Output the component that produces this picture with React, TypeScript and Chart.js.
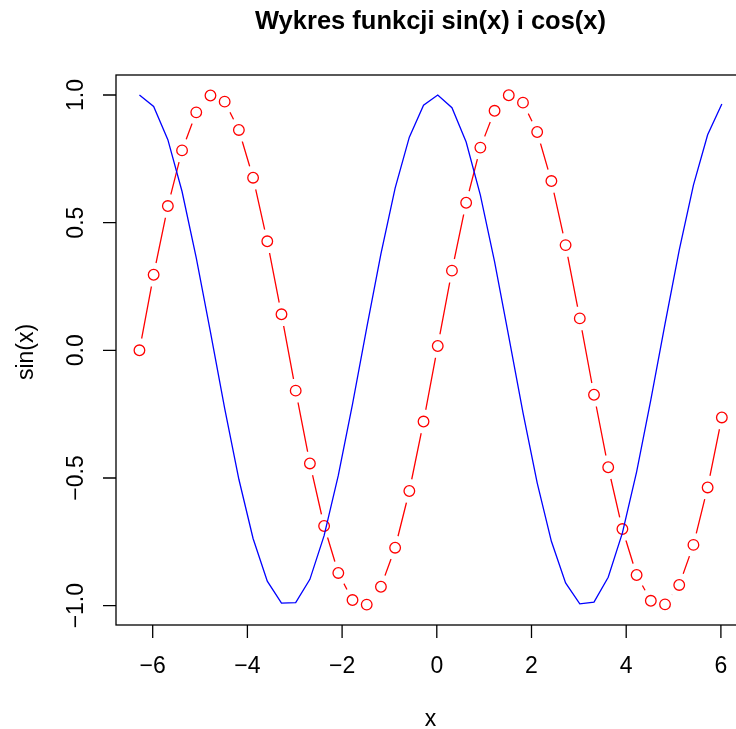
import React, { useEffect, useRef } from "react";
import { Chart, registerables } from "chart.js";

Chart.register(...registerables);

const X_VALUES = [
  -6.28, -5.98, -5.68, -5.38, -5.08, -4.78, -4.48, -4.18, -3.88, -3.58, -3.28,
  -2.98, -2.68, -2.38, -2.08, -1.78, -1.48, -1.18, -0.88, -0.58, -0.28, 0.02,
  0.32, 0.62, 0.92, 1.22, 1.52, 1.82, 2.12, 2.42, 2.72, 3.02, 3.32, 3.62, 3.92,
  4.22, 4.52, 4.82, 5.12, 5.42, 5.72, 6.02,
];
const SIN_VALUES = [
  0.0, 0.296, 0.565, 0.783, 0.932, 0.998, 0.974, 0.863, 0.676, 0.427, 0.141,
  -0.158, -0.443, -0.688, -0.872, -0.978, -0.996, -0.926, -0.773, -0.551,
  -0.279, 0.017, 0.312, 0.578, 0.794, 0.938, 0.999, 0.97, 0.855, 0.663, 0.412,
  0.125, -0.174, -0.458, -0.7, -0.88, -0.981, -0.995, -0.919, -0.762, -0.537,
  -0.263,
];
const COS_VALUES = [
  1.0, 0.955, 0.825, 0.622, 0.362, 0.071, -0.227, -0.505, -0.737, -0.904,
  -0.99, -0.988, -0.897, -0.726, -0.49, -0.211, 0.088, 0.378, 0.635, 0.835,
  0.96, 1.0, 0.95, 0.816, 0.608, 0.347, 0.054, -0.244, -0.519, -0.748, -0.911,
  -0.993, -0.986, -0.889, -0.715, -0.476, -0.194, 0.104, 0.392, 0.647, 0.844,
  0.965,
];
const X_TICKS = [-6, -4, -2, 0, 2, 4, 6];
const X_TICK_LABELS = ["\u22126", "\u22124", "\u22122", "0", "2", "4", "6"];
const Y_TICKS = [-1, -0.5, 0, 0.5, 1];
const Y_TICK_LABELS = ["\u22121.0", "\u22120.5", "0.0", "0.5", "1.0"];
const TITLE = "Wykres funkcji sin(x) i cos(x)";
const X_TITLE = "x";
const Y_TITLE = "sin(x)";

const FONT = '"Liberation Sans", Arial, Helvetica, sans-serif';

export default function App() {
  const ref = useRef<HTMLCanvasElement | null>(null);

  useEffect(() => {
    const canvas = ref.current;
    if (!canvas) return;
    const sinPts = X_VALUES.map((x, i) => ({ x, y: SIN_VALUES[i] }));
    const cosPts = X_VALUES.map((x, i) => ({ x, y: COS_VALUES[i] }));

    const axesPlugin = {
      id: "rAxes",
      afterDraw(chart: any) {
        const ctx = chart.ctx as CanvasRenderingContext2D;
        const { left, right, top, bottom } = chart.chartArea;
        const xs = chart.scales.x;
        const ys = chart.scales.y;
        ctx.save();
        ctx.strokeStyle = "#000";
        ctx.fillStyle = "#000";
        ctx.lineWidth = 1.3;
        ctx.strokeRect(left, top, right - left, bottom - top);
        const tickLen = 13;
        // x axis
        ctx.beginPath();
        X_TICKS.forEach((v) => {
          const px = xs.getPixelForValue(v);
          ctx.moveTo(px, bottom);
          ctx.lineTo(px, bottom + tickLen);
        });
        Y_TICKS.forEach((v) => {
          const py = ys.getPixelForValue(v);
          ctx.moveTo(left, py);
          ctx.lineTo(left - tickLen, py);
        });
        ctx.stroke();
        ctx.font = `23px ${FONT}`;
        ctx.textAlign = "center";
        ctx.textBaseline = "alphabetic";
        X_TICKS.forEach((v, i) => {
          const px = xs.getPixelForValue(v);
          ctx.fillText(X_TICK_LABELS[i], px, 673);
        });
        Y_TICKS.forEach((v, i) => {
          const py = ys.getPixelForValue(v);
          ctx.save();
          ctx.translate(83, py);
          ctx.rotate(-Math.PI / 2);
          ctx.fillText(Y_TICK_LABELS[i], 0, 0);
          ctx.restore();
        });
        // axis titles
        const cx = (left + right) / 2;
        const cy = (top + bottom) / 2;
        ctx.fillText(X_TITLE, cx, 726);
        ctx.save();
        ctx.translate(32.5, cy + 2);
        ctx.rotate(-Math.PI / 2);
        ctx.fillText(Y_TITLE, 0, 0);
        ctx.restore();
        ctx.font = `bold 25.5px ${FONT}`;
        ctx.fillText(TITLE, cx, 29);
        ctx.restore();
      },
    };

    const chart = new Chart(canvas, {
      type: "scatter",
      data: {
        datasets: [
          {
            label: "cos",
            data: cosPts,
            showLine: true,
            borderColor: "#0000FF",
            borderWidth: 1.3,
            pointRadius: 0,
            tension: 0,
            order: 0,
          },
          {
            label: "sinPoints",
            data: sinPts,
            showLine: false,
            pointRadius: 5.3,
            pointBorderWidth: 1.3,
            pointBorderColor: "#FF0000",
            pointBackgroundColor: "rgba(0,0,0,0)",
            order: 1,
          },
          {
            label: "mask",
            data: sinPts,
            showLine: false,
            pointRadius: 12,
            pointBorderWidth: 0,
            pointBorderColor: "rgba(0,0,0,0)",
            pointBackgroundColor: "#FFFFFF",
            order: 2,
          },
          {
            label: "sinLine",
            data: sinPts,
            showLine: true,
            borderColor: "#FF0000",
            borderWidth: 1.3,
            pointRadius: 0,
            tension: 0,
            order: 3,
          },
        ],
      },
      options: {
        animation: false,
        responsive: false,
        devicePixelRatio: 1,
        layout: { padding: { left: 116, right: 15, top: 75, bottom: 104 } },
        plugins: {
          legend: { display: false },
          tooltip: { enabled: false },
          title: { display: false },
        },
        events: [],
        scales: {
          x: {
            type: "linear",
            min: -6.775,
            max: 6.509,
            display: false,
          },
          y: {
            type: "linear",
            min: -1.0758,
            max: 1.0783,
            display: false,
          },
        },
      },
      plugins: [axesPlugin],
    });
    return () => chart.destroy();
  }, []);

  return (
    <div
      style={{
        position: "fixed",
        left: 0,
        top: 0,
        width: 736,
        height: 729,
        overflow: "hidden",
        background: "#fff",
      }}
    >
      <canvas ref={ref} width={760} height={729} style={{ display: "block" }} />
    </div>
  );
}
